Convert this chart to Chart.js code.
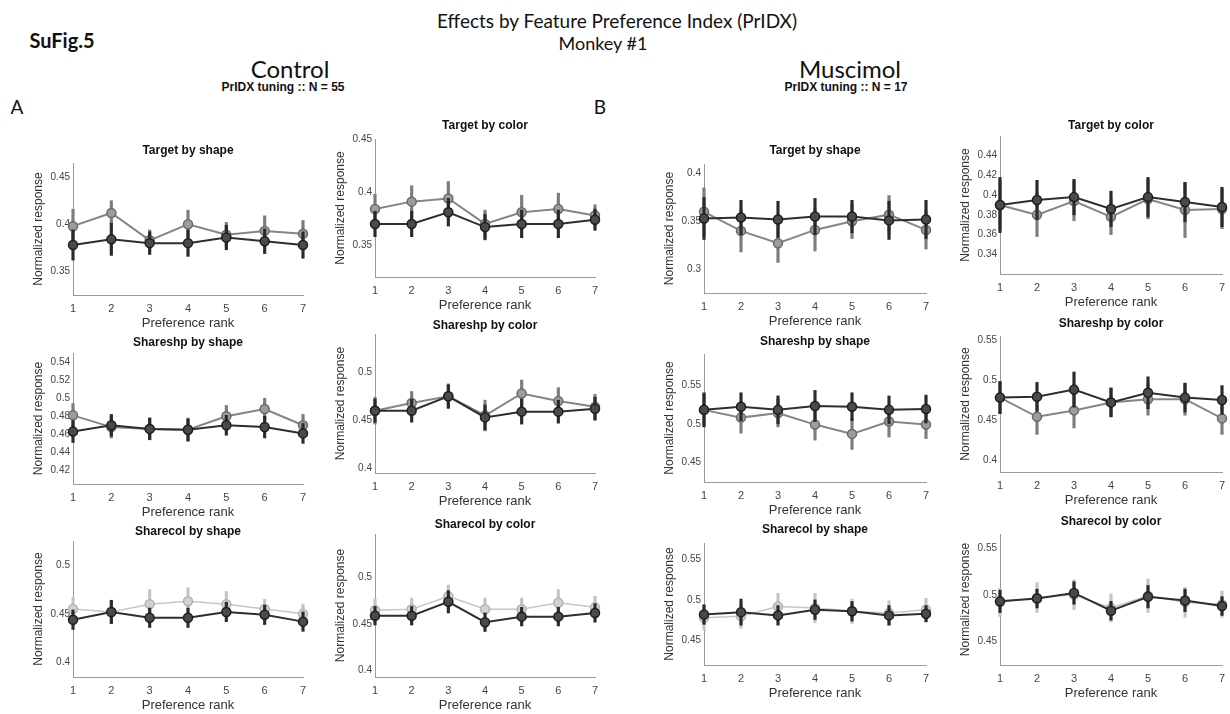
<!DOCTYPE html>
<html><head><meta charset="utf-8">
<script src="https://cdn.jsdelivr.net/npm/chart.js@4/dist/chart.umd.min.js"></script>
<style>
html,body{margin:0;padding:0;background:#fff;}
body{width:1230px;height:714px;position:relative;overflow:hidden;font-family:"Liberation Sans",Arial,sans-serif;}
.t{position:absolute;white-space:nowrap;transform:translate(-50%,-50%);color:#111;}
.pt{position:absolute;white-space:nowrap;transform:translate(-50%,-50%);color:#111;font-weight:bold;font-size:12px;}
canvas{position:absolute;}
</style></head><body>
<div class="t" style="left:617px;top:20px;font-family:Lato;font-size:19px;">Effects by Feature Preference Index (PrIDX)</div>
<div class="t" style="left:603px;top:43px;font-family:Lato;font-size:18px;">Monkey #1</div>
<div class="t" style="left:62px;top:40px;font-family:Lato;font-size:20px;font-weight:bold;">SuFig.5</div>
<div class="t" style="left:290px;top:68px;font-family:Lato;font-size:24px;">Control</div>
<div class="t" style="left:283px;top:87px;font-weight:bold;font-size:12px;">PrIDX tuning :: N = 55</div>
<div class="t" style="left:850px;top:68px;font-family:Lato;font-size:24px;">Muscimol</div>
<div class="t" style="left:846px;top:87px;font-weight:bold;font-size:12px;">PrIDX tuning :: N = 17</div>
<div class="t" style="left:17px;top:106px;font-family:Lato;font-size:19px;">A</div>
<div class="t" style="left:600px;top:106px;font-family:Lato;font-size:19px;">B</div>
<script>
// ---- data ----
const ranks = [1, 2, 3, 4, 5, 6, 7];

// Control – Target by shape
const ctlTgtShapeDark    = [0.378, 0.384, 0.380, 0.380, 0.386, 0.382, 0.378];
const ctlTgtShapeGray    = [0.398, 0.412, 0.383, 0.400, 0.389, 0.393, 0.390];
const ctlTgtShapeDarkErr = [0.016, 0.017, 0.012, 0.014, 0.013, 0.013, 0.014];
const ctlTgtShapeGrayErr = [0.018, 0.013, 0.011, 0.015, 0.013, 0.016, 0.014];
const ctlTgtShapeTicks   = [0.35, 0.4, 0.45];

// Control – Target by color
const ctlTgtColorDark    = [0.370, 0.370, 0.381, 0.367, 0.370, 0.370, 0.374];
const ctlTgtColorGray    = [0.384, 0.391, 0.394, 0.370, 0.381, 0.384, 0.378];
const ctlTgtColorDarkErr = [0.012, 0.012, 0.013, 0.012, 0.013, 0.013, 0.010];
const ctlTgtColorGrayErr = [0.014, 0.015, 0.016, 0.013, 0.016, 0.015, 0.010];
const ctlTgtColorTicks   = [0.35, 0.4, 0.45];

// Muscimol – Target by shape
const musTgtShapeDark    = [0.353, 0.354, 0.352, 0.355, 0.355, 0.351, 0.352];
const musTgtShapeGray    = [0.360, 0.340, 0.327, 0.341, 0.350, 0.357, 0.341];
const musTgtShapeDarkErr = [0.022, 0.018, 0.019, 0.019, 0.017, 0.020, 0.020];
const musTgtShapeGrayErr = [0.025, 0.022, 0.020, 0.022, 0.018, 0.020, 0.020];
const musTgtShapeTicks   = [0.3, 0.35, 0.4];

// Muscimol – Target by color
const musTgtColorDark    = [0.390, 0.395, 0.398, 0.386, 0.398, 0.393, 0.388];
const musTgtColorGray    = [0.390, 0.380, 0.394, 0.378, 0.396, 0.385, 0.386];
const musTgtColorDarkErr = [0.028, 0.020, 0.018, 0.018, 0.020, 0.020, 0.020];
const musTgtColorGrayErr = [0.025, 0.022, 0.020, 0.018, 0.020, 0.028, 0.020];
const musTgtColorTicks   = [0.34, 0.36, 0.38, 0.4, 0.42, 0.44];

// Control – Shareshp by shape
const ctlShpShapeDark    = [0.463, 0.470, 0.466, 0.465, 0.470, 0.468, 0.461];
const ctlShpShapeGray    = [0.481, 0.468, 0.466, 0.465, 0.480, 0.488, 0.470];
const ctlShpShapeDarkErr = [0.012, 0.012, 0.012, 0.012, 0.011, 0.012, 0.011];
const ctlShpShapeGrayErr = [0.013, 0.012, 0.012, 0.013, 0.012, 0.012, 0.012];
const ctlShpShapeTicks   = [0.42, 0.44, 0.46, 0.48, 0.5, 0.52, 0.54];

// Control – Shareshp by color
const ctlShpColorDark    = [0.460, 0.460, 0.475, 0.453, 0.459, 0.459, 0.462];
const ctlShpColorGray    = [0.460, 0.468, 0.475, 0.455, 0.478, 0.470, 0.464];
const ctlShpColorDarkErr = [0.012, 0.012, 0.012, 0.013, 0.013, 0.012, 0.012];
const ctlShpColorGrayErr = [0.014, 0.012, 0.013, 0.016, 0.014, 0.014, 0.013];
const ctlShpColorTicks   = [0.4, 0.45, 0.5];

// Muscimol – Shareshp by shape
const musShpShapeDark    = [0.518, 0.522, 0.518, 0.523, 0.522, 0.518, 0.519];
const musShpShapeGray    = [0.518, 0.508, 0.514, 0.499, 0.487, 0.503, 0.499];
const musShpShapeDarkErr = [0.022, 0.018, 0.018, 0.020, 0.018, 0.018, 0.018];
const musShpShapeGrayErr = [0.020, 0.020, 0.018, 0.020, 0.020, 0.020, 0.018];
const musShpShapeTicks   = [0.45, 0.5, 0.55];

// Muscimol – Shareshp by color
const musShpColorDark    = [0.478, 0.479, 0.488, 0.472, 0.484, 0.478, 0.475];
const musShpColorGray    = [0.478, 0.454, 0.462, 0.472, 0.476, 0.476, 0.452];
const musShpColorDarkErr = [0.020, 0.018, 0.022, 0.018, 0.020, 0.018, 0.018];
const musShpColorGrayErr = [0.020, 0.022, 0.022, 0.018, 0.020, 0.020, 0.020];
const musShpColorTicks   = [0.4, 0.45, 0.5, 0.55];

// Control – Sharecol by shape
const ctlColShapeDark    = [0.444, 0.452, 0.446, 0.446, 0.452, 0.449, 0.442];
const ctlColShapeGray    = [0.455, 0.452, 0.460, 0.463, 0.460, 0.455, 0.450];
const ctlColShapeDarkErr = [0.010, 0.012, 0.010, 0.010, 0.010, 0.010, 0.010];
const ctlColShapeGrayErr = [0.012, 0.012, 0.015, 0.014, 0.013, 0.010, 0.010];
const ctlColShapeTicks   = [0.4, 0.45, 0.5];

// Control – Sharecol by color
const ctlColColorDark    = [0.459, 0.459, 0.474, 0.452, 0.458, 0.458, 0.462];
const ctlColColorGray    = [0.465, 0.466, 0.480, 0.466, 0.466, 0.473, 0.468];
const ctlColColorDarkErr = [0.010, 0.010, 0.012, 0.010, 0.010, 0.010, 0.010];
const ctlColColorGrayErr = [0.012, 0.012, 0.012, 0.012, 0.012, 0.014, 0.012];
const ctlColColorTicks   = [0.4, 0.45, 0.5];

// Muscimol – Sharecol by shape
const musColShapeDark    = [0.482, 0.485, 0.481, 0.488, 0.486, 0.481, 0.483];
const musColShapeGray    = [0.478, 0.480, 0.492, 0.490, 0.486, 0.484, 0.488];
const musColShapeDarkErr = [0.012, 0.016, 0.012, 0.012, 0.012, 0.012, 0.010];
const musColShapeGrayErr = [0.015, 0.015, 0.016, 0.018, 0.015, 0.015, 0.014];
const musColShapeTicks   = [0.45, 0.5, 0.55];

// Muscimol – Sharecol by color
const musColColorDark    = [0.493, 0.496, 0.502, 0.483, 0.498, 0.494, 0.488];
const musColColorGray    = [0.492, 0.497, 0.500, 0.486, 0.499, 0.492, 0.490];
const musColColorDarkErr = [0.012, 0.010, 0.012, 0.010, 0.012, 0.012, 0.010];
const musColColorGrayErr = [0.015, 0.016, 0.016, 0.015, 0.018, 0.016, 0.014];
const musColColorTicks   = [0.45, 0.5, 0.55];

// ---- layout (plot-area boxes in page pixels) ----
const panels = [
  {title:'Target by shape',    ty:150, l:73,  r:303,  t:162, b:295, min:0.325, max:0.465, dark:ctlTgtShapeDark, gray:ctlTgtShapeGray, de:ctlTgtShapeDarkErr, ge:ctlTgtShapeGrayErr, ticks:ctlTgtShapeTicks, row:1},
  {title:'Target by color',    ty:125, l:375, r:595,  t:138, b:277, min:0.32,  max:0.45,  dark:ctlTgtColorDark, gray:ctlTgtColorGray, de:ctlTgtColorDarkErr, ge:ctlTgtColorGrayErr, ticks:ctlTgtColorTicks, row:1},
  {title:'Target by shape',    ty:150, l:704, r:926,  t:163, b:293, min:0.275, max:0.41,  dark:musTgtShapeDark, gray:musTgtShapeGray, de:musTgtShapeDarkErr, ge:musTgtShapeGrayErr, ticks:musTgtShapeTicks, row:1},
  {title:'Target by color',    ty:125, l:1000,r:1222, t:135, b:274, min:0.32,  max:0.46,  dark:musTgtColorDark, gray:musTgtColorGray, de:musTgtColorDarkErr, ge:musTgtColorGrayErr, ticks:musTgtColorTicks, row:1},
  {title:'Shareshp by shape',  ty:342, l:73,  r:303,  t:352, b:484, min:0.405, max:0.55,  dark:ctlShpShapeDark, gray:ctlShpShapeGray, de:ctlShpShapeDarkErr, ge:ctlShpShapeGrayErr, ticks:ctlShpShapeTicks, row:2},
  {title:'Shareshp by color',  ty:325, l:375, r:595,  t:333, b:473, min:0.395, max:0.54,  dark:ctlShpColorDark, gray:ctlShpColorGray, de:ctlShpColorDarkErr, ge:ctlShpColorGrayErr, ticks:ctlShpColorTicks, row:2},
  {title:'Shareshp by shape',  ty:341, l:704, r:926,  t:353, b:482, min:0.425, max:0.59,  dark:musShpShapeDark, gray:musShpShapeGray, de:musShpShapeDarkErr, ge:musShpShapeGrayErr, ticks:musShpShapeTicks, row:2},
  {title:'Shareshp by color',  ty:323, l:1000,r:1222, t:335, b:472, min:0.385, max:0.555, dark:musShpColorDark, gray:musShpColorGray, de:musShpColorDarkErr, ge:musShpColorGrayErr, ticks:musShpColorTicks, row:2},
  {title:'Sharecol by shape',  ty:531, l:73,  r:303,  t:540, b:677, min:0.385, max:0.525, dark:ctlColShapeDark, gray:ctlColShapeGray, de:ctlColShapeDarkErr, ge:ctlColShapeGrayErr, ticks:ctlColShapeTicks, row:3},
  {title:'Sharecol by color',  ty:524, l:375, r:595,  t:533, b:677, min:0.393, max:0.547, dark:ctlColColorDark, gray:ctlColColorGray, de:ctlColColorDarkErr, ge:ctlColColorGrayErr, ticks:ctlColColorTicks, row:3},
  {title:'Sharecol by shape',  ty:529, l:704, r:926,  t:542, b:665, min:0.42,  max:0.57,  dark:musColShapeDark, gray:musColShapeGray, de:musColShapeDarkErr, ge:musColShapeGrayErr, ticks:musColShapeTicks, row:3},
  {title:'Sharecol by color',  ty:521, l:1000,r:1222, t:533, b:665, min:0.425, max:0.565, dark:musColColorDark, gray:musColColorGray, de:musColColorDarkErr, ge:musColColorGrayErr, ticks:musColColorTicks, row:3}
];

const FONT = '"Liberation Sans", Arial, sans-serif';
const darkStyle = {line:'#2e2e2e', fill:'#4a4a4a', edge:'#1e1e1e', err:'#2a2a2a'};
const grayStyle = {line:'#858585', fill:'#9c9c9c', edge:'#6a6a6a', err:'#7c7c7c'};
const lightStyle = {line:'#c6c6c6', fill:'#d2d2d2', edge:'#b2b2b2', err:'#c4c4c4'};

function errSet(vals, errs, st, order){
  return {type:'bar', order, grouped:false, barThickness:2.5, borderWidth:0,
    backgroundColor:st.err, clip:false,
    data: ranks.map((x,i)=>({x, y:[vals[i]-errs[i], vals[i]+errs[i]]}))};
}
function lineSet(vals, st, order, width){
  return {type:'line', order, clip:false, fill:false, tension:0,
    borderColor:st.line, borderWidth:width, pointRadius:4.5, pointBorderWidth:1.5,
    pointBackgroundColor:st.fill, pointBorderColor:st.edge,
    data: ranks.map((x,i)=>({x, y:vals[i]}))};
}

panels.forEach(p=>{
  const PADL = 48, PADR = 14, PADT = 8, XH = 36;
  const cl = p.l - PADL, ct = p.t - PADT;
  const cw = p.r - p.l + PADL + PADR, ch = p.b - ct + XH;
  const cv = document.createElement('canvas');
  cv.width = cw; cv.height = ch;
  cv.style.left = cl + 'px'; cv.style.top = ct + 'px';
  cv.style.width = cw + 'px'; cv.style.height = ch + 'px';
  document.body.appendChild(cv);
  const tt = document.createElement('div');
  tt.className = 'pt'; tt.textContent = p.title;
  tt.style.left = ((p.l + p.r)/2) + 'px'; tt.style.top = p.ty + 'px';
  document.body.appendChild(tt);
  const gs = p.row === 3 ? lightStyle : grayStyle;
  new Chart(cv, {
    type:'line',
    data:{datasets:[
      errSet(p.gray, p.ge, gs, 3),
      lineSet(p.gray, gs, 2, p.row===3 ? 1.5 : 2),
      errSet(p.dark, p.de, darkStyle, 1),
      lineSet(p.dark, darkStyle, 0, 2)
    ]},
    options:{
      responsive:false, animation:false, devicePixelRatio:1,
      layout:{padding:{left:0, right:PADR, top:PADT, bottom:0}},
      plugins:{legend:{display:false}, tooltip:{enabled:false}, title:{display:false}},
      scales:{
        x:{type:'linear', min:1, max:7, offset:false,
          afterBuildTicks:s=>{ s.ticks = ranks.map(v=>({value:v})); },
          afterFit:s=>{ s.height = XH; },
          grid:{drawOnChartArea:false, drawTicks:false, offset:false},
          border:{display:true, color:'#9a9a9a', dash:[2,2], width:1},
          ticks:{padding:7, autoSkip:false, maxRotation:0, color:'#444', font:{family:FONT, size:11}, callback:v=>String(v)},
          title:{display:true, text:'Preference rank', color:'#333', font:{family:FONT, size:13}, padding:{top:0, bottom:0}}
        },
        y:{type:'linear', min:p.min, max:p.max,
          afterBuildTicks:s=>{ s.ticks = p.ticks.map(v=>({value:v})); },
          afterFit:s=>{ s.width = PADL; },
          grid:{drawOnChartArea:false, drawTicks:false},
          border:{display:true, color:'#9a9a9a', dash:[2,2], width:1},
          ticks:{padding:3, color:'#444', font:{family:FONT, size:10}, callback:v=>String(+Number(v).toFixed(3))},
          title:{display:true, text:'Normalized response', color:'#333', font:{family:FONT, size:12}, padding:{top:6, bottom:0}}
        }
      }
    }
  });
});
</script>
</body></html>
